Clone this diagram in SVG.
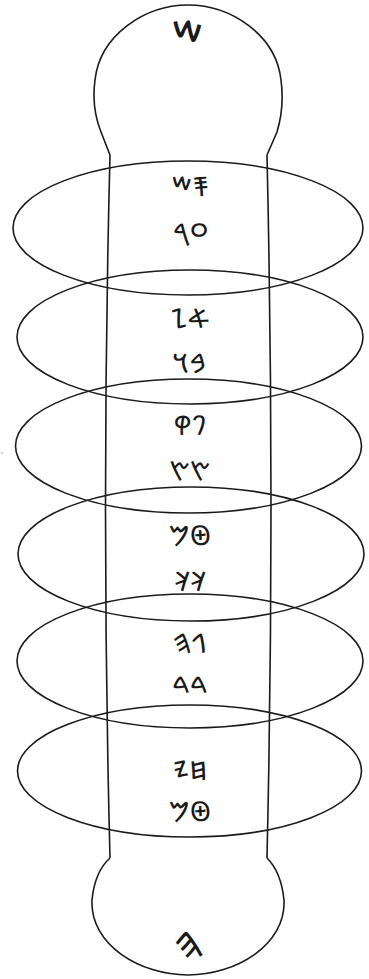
<svg xmlns="http://www.w3.org/2000/svg" width="369" height="979" viewBox="0 0 369 979">
<style>
.ln{fill:none;stroke:#1a1a1a;stroke-width:1.6}
.t{font-family:"Noto Sans Phoenician","DejaVu Sans",sans-serif;font-size:27px;fill:#1a1a1a;text-anchor:middle;direction:ltr;unicode-bidi:bidi-override}
.big{font-size:42px}
.end{font-size:38px}
</style>
<rect width="369" height="979" fill="#fff"/>
<g id="body">
<path class="ln" d="M110,155 L101,132 C93,112 93,95 95,80 C100,35 145,5 188,5 C231,5 276,35 281,80 C283,95 283,112 277,132 L267,155"/>
<path class="ln" d="M110,155 Q101,507 110,858"/>
<path class="ln" d="M267,155 Q275,507 267,858"/>
<path class="ln" d="M110,858 C101,866 94,880 92,900 C90,945 140,975 188,975 C236,975 286,945 284,900 C282,880 275,866 267,858"/>
</g>
<g id="rings">
<ellipse id="ring1" class="ln" cx="188" cy="228" rx="175" ry="67"/>
<ellipse id="ring2" class="ln" cx="190" cy="337" rx="173" ry="67"/>
<ellipse id="ring3" class="ln" cx="188.5" cy="446" rx="173" ry="67"/>
<ellipse id="ring4" class="ln" cx="191" cy="554" rx="173" ry="67"/>
<ellipse id="ring5" class="ln" cx="190" cy="661" rx="173" ry="67"/>
<ellipse id="ring6" class="ln" cx="189.5" cy="771" rx="172" ry="66"/>
</g>
<circle cx="2" cy="453" r="0.8" fill="#999"/>
<g id="labels">
<text class="t big" x="188" y="51">𐤔</text>
<text class="t" x="190.5" y="196">𐤔𐤎</text>
<text class="t" x="191" y="243">𐤓𐤏</text>
<text class="t" x="190" y="328">𐤆𐤀</text>
<text class="t" x="190" y="373">𐤅𐤁</text>
<text class="t" x="190" y="435">𐤒𐤐</text>
<text class="t" x="190" y="481">𐤑𐤑</text>
<text class="t" x="190" y="545">𐤌𐤈</text>
<text class="t" x="190" y="591">𐤊𐤊</text>
<text class="t" x="190" y="653">𐤄𐤂</text>
<text class="t" x="190" y="696">𐤃𐤃</text>
<text class="t" x="190" y="780">𐤉𐤇</text>
<text class="t" x="190" y="821">𐤌𐤈</text>
<text class="t end" x="189" y="959" transform="rotate(-15 189 948)">𐤄</text>
</g>
</svg>
